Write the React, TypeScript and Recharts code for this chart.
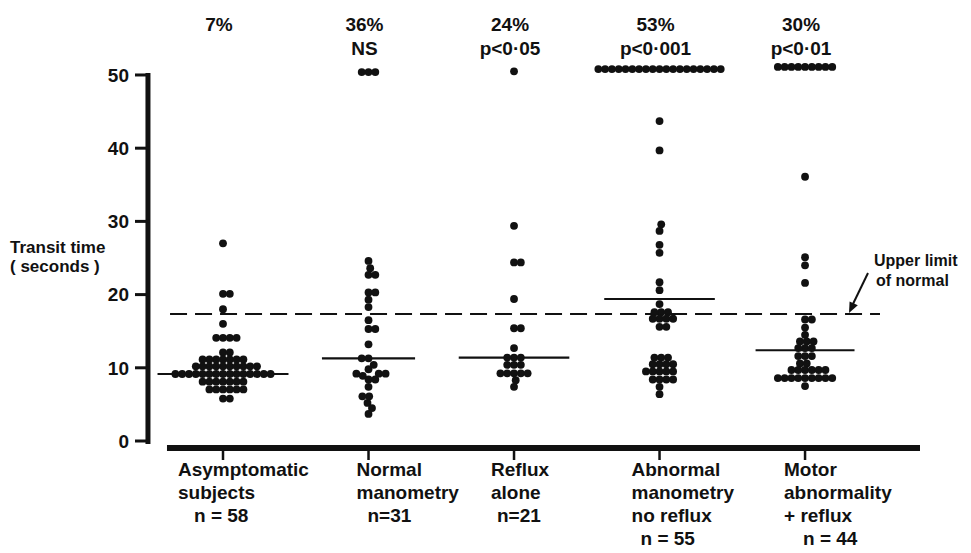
import React from 'react';
import { ComposedChart, Scatter, XAxis, YAxis, ReferenceLine } from 'recharts';

// ---------- data ----------
const groupKeys = [1, 2, 3, 4, 5];
const groupNames = [
  ['Asymptomatic', 'subjects'],
  ['Normal', 'manometry'],
  ['Reflux', 'alone'],
  ['Abnormal', 'manometry', 'no reflux'],
  ['Motor', 'abnormality', '+ reflux'],
];
const groupCounts = ['n = 58', 'n=31', 'n=21', 'n = 55', 'n = 44'];
const percentLabels = ['7%', '36%', '24%', '53%', '30%'];
const significanceLabels = ['', 'NS', 'p<0·05', 'p<0·001', 'p<0·01'];
const yTicks = [0, 10, 20, 30, 40, 50];
const upperLimitOfNormal = 17.35;
const medians = [9.15, 11.3, 11.4, 19.4, 12.4];

const asymptomatic = [
  27, 20.1, 20.1, 18.0, 16.0, 14.1, 14.1, 14.1, 14.1, 12.1, 12.1,
  11.15, 11.15, 11.15, 11.15, 11.15, 11.15, 11.15,
  10.2, 10.2, 10.2, 10.2, 10.2, 10.2, 10.2, 10.2, 10.2, 10.2,
  9.15, 9.15, 9.15, 9.15, 9.15, 9.15, 9.15, 9.15, 9.15, 9.15, 9.15, 9.15, 9.15, 9.15, 9.15,
  8.1, 8.1, 8.1, 8.1, 8.1, 8.1, 8.1,
  7.05, 7.05, 7.05, 7.05, 7.05, 7.05,
  5.8, 5.8,
];
const normalManometry = [
  50.4, 50.4, 50.4, 24.6, 23.6, 22.7, 22.7, 20.3, 20.3, 19.3, 18.3,
  16.5, 15.3, 15.3, 13.2, 11.3, 11.3, 10.4, 9.8, 9.2, 9.2, 9.2, 8.9,
  8.4, 8.4, 7.4, 6.1, 6.1, 5.2, 4.5, 3.7,
];
const refluxAlone = [
  50.5, 29.4, 24.4, 24.4, 19.4, 15.4, 15.4, 12.7, 11.4, 11.4, 11.4,
  10.4, 10.4, 10.4, 9.25, 9.25, 9.25, 9.25, 9.25, 8.3, 7.4,
];
const abnormalNoReflux = [
  50.8, 50.8, 50.8, 50.8, 50.8, 50.8, 50.8, 50.8, 50.8, 50.8,
  50.8, 50.8, 50.8, 50.8, 50.8, 50.8, 50.8, 50.8, 50.8,
  43.7, 39.7, 29.6, 28.7, 26.8, 25.7, 21.7, 20.6, 18.7,
  17.6, 17.6, 17.6, 16.7, 16.7, 16.7, 16.7, 15.6, 15.6,
  11.4, 11.4, 11.4, 10.5, 10.5, 10.5, 10.5, 9.5, 9.5, 9.5, 9.5, 9.5,
  8.4, 8.4, 8.4, 8.4, 7.4, 6.4,
];
const motorWithReflux = [
  51.1, 51.1, 51.1, 51.1, 51.1, 51.1, 51.1, 51.1, 51.1,
  36.1, 25.1, 24.0, 21.6,
  16.6, 16.6, 15.5, 14.5, 13.6, 13.6, 13.6, 12.7, 12.7, 12.7,
  11.6, 11.6, 11.6, 10.6, 10.6,
  9.7, 9.7, 9.7, 9.7, 9.7, 9.7,
  8.6, 8.6, 8.6, 8.6, 8.6, 8.6, 8.6, 8.6, 8.6, 7.5,
];
const groupValues = [asymptomatic, normalManometry, refluxAlone, abnormalNoReflux, motorWithReflux];

// ---------- layout ----------
const CHART_W = 955;
const CHART_H = 545;
const MARGIN = { top: 16, right: 43, bottom: 12, left: 82 };
const TOP_AXIS_H = 40;
const BOTTOM_AXIS_H = 100;
const Y_AXIS_W = 60;
const X_MIN = 0.4983;
const X_MAX = 5.79;
const Y_MAX = 51.5;
const PLOT_W = CHART_W - MARGIN.left - MARGIN.right - Y_AXIS_W;
const PLOT_H = CHART_H - MARGIN.top - MARGIN.bottom - TOP_AXIS_H - BOTTOM_AXIS_H;
const PX_X = PLOT_W / (X_MAX - X_MIN);
const PX_Y = PLOT_H / Y_MAX;
const DOT_D = 6.8;
const DOT_R = 3.9;
const INK = '#111';
const FONT = '"Liberation Sans", Arial, sans-serif';
const labelDx = [-45, -12, -23, -28, -21];
const countDx = [-29, -1, -17, -19, -2];
const medianHalf = [0.45, 0.32, 0.38, 0.38, 0.34];
const LINE_GAP = 23;

// deterministic beeswarm layout: horizontal offsets (px) so that dots do not overlap
function swarmOffsets(values: number[]): number[] {
  const order = values.map((_, i) => i).sort((a, b) => values[a] - values[b]);
  const placed: { x: number; y: number }[] = [];
  const out = new Array(values.length).fill(0);
  for (const i of order) {
    const y = values[i] * PX_Y;
    const near = placed.filter((p) => Math.abs(p.y - y) < DOT_D);
    const cands = [0];
    near.forEach((p) => {
      const dx = Math.sqrt(DOT_D * DOT_D - (p.y - y) * (p.y - y));
      cands.push(p.x + dx, p.x - dx);
    });
    cands.sort((a, b) => Math.abs(a) - Math.abs(b) || b - a);
    let chosen = 0;
    for (const c of cands) {
      if (near.every((p) => (p.x - c) ** 2 + (p.y - y) ** 2 >= DOT_D * DOT_D - 1e-6)) {
        chosen = c;
        break;
      }
    }
    placed.push({ x: chosen, y });
    out[i] = chosen;
  }
  return out;
}

const points = groupValues.flatMap((vals, gi) => {
  const offs = swarmOffsets(vals);
  return vals.map((v, k) => ({ x: groupKeys[gi] + offs[k] / PX_X, y: v }));
});

const Dot = (props: any) => <circle cx={props.cx} cy={props.cy} r={DOT_R} fill={INK} />;

const BottomTick = (props: any) => {
  const { x, y, payload } = props;
  const i = groupKeys.indexOf(payload.value);
  if (i < 0) return null;
  const lines = groupNames[i];
  return (
    <g fontFamily={FONT} fontWeight={700} fontSize={19} fill={INK}>
      <line x1={x} x2={x} y1={y + 9} y2={y + 19} stroke={INK} strokeWidth={2.5} />
      {lines.map((t, k) => (
        <text key={k} x={x + labelDx[i]} y={y + 35 + k * LINE_GAP} textAnchor="start" fill={INK}>
          {t}
        </text>
      ))}
      <text x={x + countDx[i]} y={y + 35 + lines.length * LINE_GAP} textAnchor="start" fill={INK}>
        {groupCounts[i]}
      </text>
    </g>
  );
};

const TopTick = (props: any) => {
  const { x, y, payload } = props;
  const i = groupKeys.indexOf(payload.value);
  if (i < 0) return null;
  return (
    <g fontFamily={FONT} fontWeight={700} fontSize={19} fill={INK}>
      <text x={x - 4} y={y - 33} textAnchor="middle" fill={INK}>{percentLabels[i]}</text>
      <text x={x - 4} y={y - 9} textAnchor="middle" fill={INK}>{significanceLabels[i]}</text>
    </g>
  );
};

const renderYTitle = () => (
  <g fontFamily={FONT} fontWeight={700} fontSize={17} fill={INK}>
    <text x={2} y={245} fill={INK}>Transit time</text>
    <text x={2} y={264} fill={INK}>( seconds )</text>
  </g>
);

const renderUpperNote = () => (
  <g fontFamily={FONT} fontWeight={700} fontSize={16} fill={INK}>
    <text x={866} y={258} fill={INK}>Upper limit</text>
    <text x={868} y={278} fill={INK}>of normal</text>
    <line x1={860} y1={265} x2={844} y2={298} stroke={INK} strokeWidth={2} />
    <polygon points="841,305 841.6,293.5 849.8,297.3" fill={INK} />
  </g>
);

export default function App() {
  return (
    <ComposedChart width={CHART_W} height={CHART_H} margin={MARGIN} data={points}>
      <XAxis
        xAxisId="bottom"
        dataKey="x"
        type="number"
        domain={[X_MIN, X_MAX]}
        ticks={groupKeys}
        height={BOTTOM_AXIS_H}
        axisLine={false}
        tickLine={false}
        tickSize={0}
        tickMargin={0}
        tick={<BottomTick />}
        interval={0}
      />
      <XAxis
        xAxisId="top"
        orientation="top"
        dataKey="x"
        type="number"
        domain={[X_MIN, X_MAX]}
        ticks={groupKeys}
        height={TOP_AXIS_H}
        axisLine={false}
        tickLine={false}
        tickSize={0}
        tickMargin={0}
        tick={<TopTick />}
        interval={0}
      />
      <YAxis
        dataKey="y"
        type="number"
        domain={[0, Y_MAX]}
        ticks={yTicks}
        width={Y_AXIS_W}
        axisLine={false}
        tickSize={15}
        tickMargin={6}
        tickLine={{ stroke: INK, strokeWidth: 3 }}
        tick={{ fontSize: 19, fontWeight: 700, fill: INK, fontFamily: FONT }}
        interval={0}
        label={renderYTitle}
      />
      <ReferenceLine
        xAxisId="bottom"
        segment={[{ x: X_MIN - 0.014, y: -0.41 }, { x: X_MIN - 0.014, y: 50.27 }]}
        stroke={INK}
        strokeWidth={5}
        ifOverflow="visible"
      />
      <ReferenceLine
        xAxisId="bottom"
        segment={[{ x: 0.615, y: -0.96 }, { x: X_MAX, y: -0.96 }]}
        stroke={INK}
        strokeWidth={6}
        ifOverflow="visible"
      />
      <ReferenceLine
        xAxisId="bottom"
        segment={[{ x: 0.636, y: upperLimitOfNormal }, { x: 5.515, y: upperLimitOfNormal }]}
        stroke={INK}
        strokeWidth={2}
        strokeDasharray="17 8"
        ifOverflow="visible"
        label={renderUpperNote}
      />
      {medians.map((m, i) => (
        <ReferenceLine
          key={i}
          xAxisId="bottom"
          segment={[{ x: groupKeys[i] - medianHalf[i], y: m }, { x: groupKeys[i] + medianHalf[i], y: m }]}
          stroke={INK}
          strokeWidth={2.2}
          ifOverflow="visible"
        />
      ))}
      <Scatter xAxisId="bottom" data={points} shape={<Dot />} isAnimationActive={false} />
    </ComposedChart>
  );
}
